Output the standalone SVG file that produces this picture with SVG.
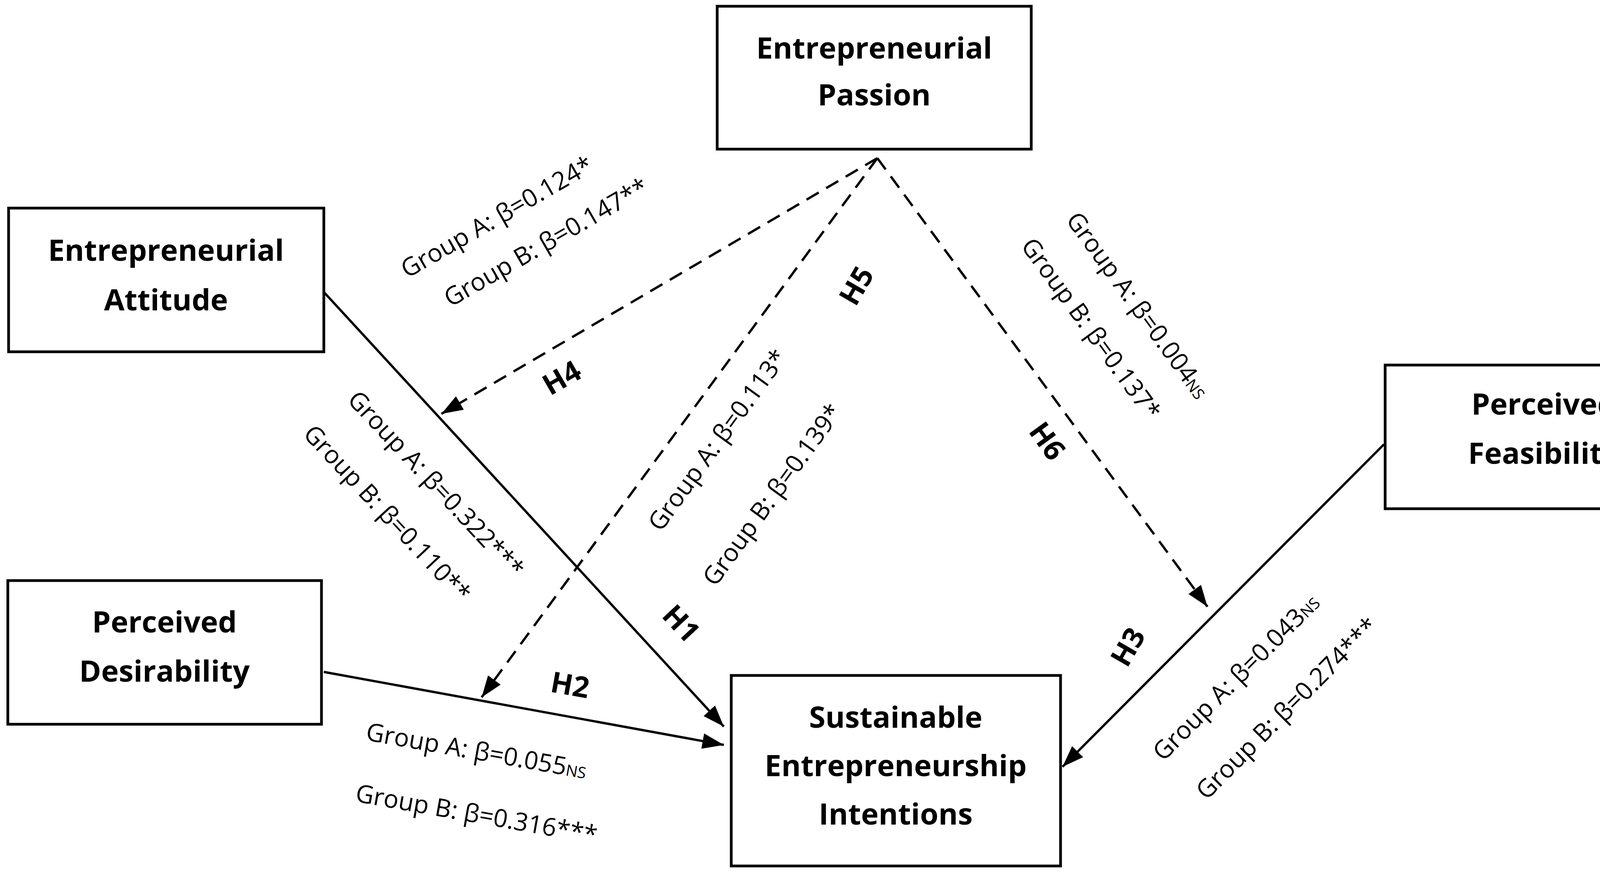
<svg xmlns="http://www.w3.org/2000/svg" width="4375" height="2236" viewBox="0 0 4375 2236">
<style>
.box{fill:#fff;stroke:#000;stroke-width:7}
.nt{font-family:"Open Sans","Liberation Sans",sans-serif;font-weight:bold;font-size:76px;text-anchor:middle;fill:#000}
.lb{font-family:"Open Sans","Liberation Sans",sans-serif;font-size:64px;text-anchor:middle;fill:#000}
.h{font-family:"Open Sans","Liberation Sans",sans-serif;font-weight:bold;font-size:74px;text-anchor:middle;fill:#000}
.sup{font-size:40px}
.ln{stroke:#000;stroke-width:6;fill:none}
.ds{stroke:#000;stroke-width:6;fill:none;stroke-dasharray:36 22}
</style>
<defs>
<marker id="ar" markerUnits="userSpaceOnUse" markerWidth="60" markerHeight="50" refX="55" refY="20" orient="auto"><path d="M0,0 L55,20 L0,40 Z" fill="#000"/></marker>
</defs>
<rect width="4375" height="2236" fill="#fff"/>
<g id="passion"><rect class="box" x="1836" y="16" width="804" height="366"/><text class="nt" x="2238" y="150">Entrepreneurial</text><text class="nt" x="2238" y="270">Passion</text></g>
<g id="attitude"><rect class="box" x="22" y="533" width="807" height="368"/><text class="nt" x="425" y="668">Entrepreneurial</text><text class="nt" x="425" y="795">Attitude</text></g>
<g id="desirability"><rect class="box" x="20" y="1487" width="803" height="368"/><text class="nt" x="421" y="1620">Perceived</text><text class="nt" x="421" y="1746">Desirability</text></g>
<g id="feasibility"><rect class="box" x="3546" y="935" width="812" height="368"/><text class="nt" x="3952" y="1062">Perceived</text><text class="nt" x="3952" y="1188">Feasibility</text></g>
<g id="sei"><rect class="box" x="1872" y="1730" width="843" height="488"/><text class="nt" x="2293" y="1864">Sustainable</text><text class="nt" x="2293" y="1988">Entrepreneurship</text><text class="nt" x="2293" y="2112">Intentions</text></g>
<g id="connectors">
<line class="ln" x1="829" y1="748" x2="1853" y2="1861" marker-end="url(#ar)"/>
<line class="ln" x1="829" y1="1721" x2="1853" y2="1908" marker-end="url(#ar)"/>
<line class="ln" x1="3543" y1="1138" x2="2720" y2="1964" marker-end="url(#ar)"/>
<line class="ds" x1="2246" y1="405" x2="1130" y2="1060" marker-end="url(#ar)"/>
<line class="ds" x1="2246" y1="405" x2="1233" y2="1786" marker-end="url(#ar)"/>
<line class="ds" x1="2246" y1="405" x2="3091" y2="1554" marker-end="url(#ar)"/>
</g>
<g id="labels">
<text class="lb" transform="translate(1283,575) rotate(-30)">Group A: β=0.124*</text>
<text class="lb" transform="translate(1409,640) rotate(-30)">Group B: β=0.147**</text>
<text class="h" transform="translate(1451,990) rotate(-30)">H4</text>
<text class="lb" transform="translate(1855,1140) rotate(-54)">Group A: β=0.113*</text>
<text class="lb" transform="translate(1995,1280) rotate(-54)">Group B: β=0.139*</text>
<text class="h" transform="translate(2215,745) rotate(-60)">H5</text>
<text class="lb" transform="translate(1100,1255) rotate(47)">Group A: β=0.322***</text>
<text class="lb" transform="translate(975,1330) rotate(47)">Group B: β=0.110**</text>
<text class="h" transform="translate(1725,1615) rotate(47)">H1</text>
<text class="lb" transform="translate(2895,795) rotate(54)">Group A: β=0.004<tspan class="sup">NS</tspan></text>
<text class="lb" transform="translate(2775,855) rotate(54)">Group B: β=0.137*</text>
<text class="h" transform="translate(2660,1145) rotate(54)">H6</text>
<text class="h" transform="translate(1455,1780) rotate(10)">H2</text>
<text class="lb" transform="translate(1216,1945) rotate(10)">Group A: β=0.055<tspan class="sup">NS</tspan></text>
<text class="lb" transform="translate(1216,2107) rotate(10)">Group B: β=0.316***</text>
<text class="h" transform="translate(2910,1670) rotate(-60)">H3</text>
<text class="lb" transform="translate(3180,1750) rotate(-45)">Group A: β=0.043<tspan class="sup">NS</tspan></text>
<text class="lb" transform="translate(3310,1830) rotate(-45)">Group B: β=0.274***</text>
</g>
</svg>
